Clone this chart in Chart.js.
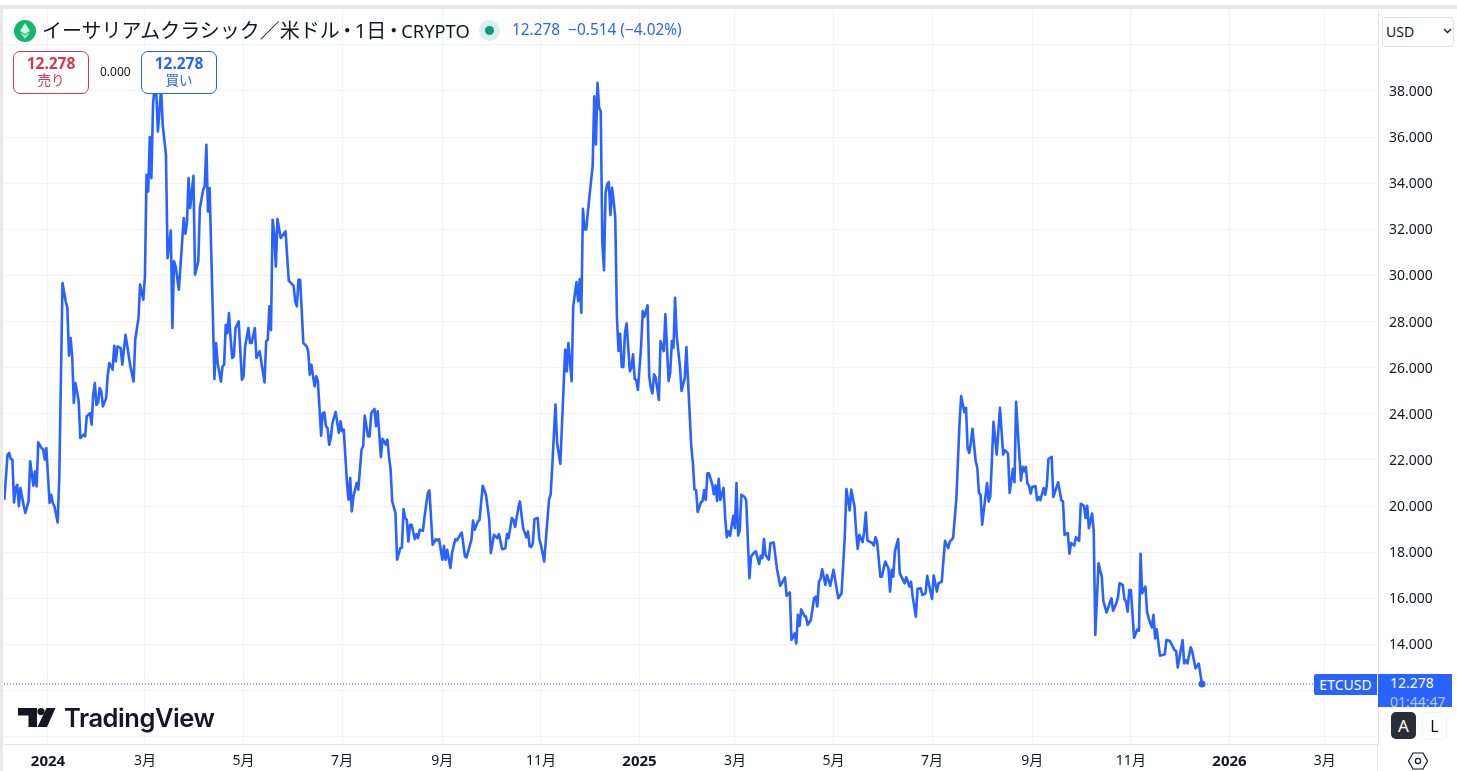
<!DOCTYPE html>
<html lang="ja">
<head>
<meta charset="utf-8">
<title>ETCUSD</title>
<script src="https://cdn.jsdelivr.net/npm/chart.js@4"></script>
<style>
html, body { margin: 0; padding: 0; background: #fff; overflow: hidden; }
body { width: 1457px; height: 771px; position: relative; font-family: "Noto Sans", "Noto Sans CJK JP", sans-serif; color: #131722; }
#wrap { position: absolute; left: 0; top: 0; width: 1457px; height: 771px; }
.abs { position: absolute; white-space: nowrap; }
.frameTop { left: 0; top: 5px; width: 1457px; height: 4px; background: #e9e9e9; }
.frameLeft { left: 0; top: 5px; width: 3px; height: 766px; background: #e9e9e9; }
.axisLine { left: 1377px; top: 744px; width: 1px; height: 27px; background: #e0e3eb; }
.title { left: 42px; top: 18px; font-size: 20px; line-height: 26px; }
.title .sep { margin: 0 -2.5px; }
.title .latin { font-size: 18.3px; }
.quote { left: 512px; top: 20px; font-size: 15.4px; line-height: 20px; color: #2962ff; }
.halo { left: 479px; top: 20px; width: 21px; height: 21px; border-radius: 50%; background: #d9efeb; }
.dot { left: 485px; top: 26px; width: 9px; height: 9px; border-radius: 50%; background: #089981; }
.tradeBox { top: 51px; width: 74px; height: 41px; border-radius: 7px; border: 1px solid; background: #fff; text-align: center; }
.tradeBox b { display: block; font-size: 15.5px; line-height: 18px; margin-top: 2px; }
.tradeBox span { display: block; font-size: 13.5px; line-height: 17px; }
.sell { left: 13px; border-color: #d7374a; color: #d7374a; }
.buy { left: 141px; border-color: #2962cc; color: #2962ff; }
.spread { left: 100px; top: 63px; font-size: 12px; line-height: 17px; }
.usd { left: 1382px; top: 17px; width: 70px; height: 28px; border: 1px solid #e0e3eb; border-radius: 4px; background: #fff; font-size: 14px; line-height: 28px; text-indent: 3px; }
.symLabel { left: 1314px; top: 674px; width: 63px; height: 21px; background: #2962ff; border-radius: 2px 0 0 2px; color: #fff; font-size: 14px; line-height: 21px; text-align: center; }
.priceLabel { left: 1378px; top: 674px; width: 74px; height: 33px; background: #2962ff; color: #fff; overflow: hidden; font-size: 14px; line-height: 18px; text-indent: 12px; }
.priceLabel i { display: block; font-style: normal; line-height: 15px; margin-top: 2px; color: #b4c8ff; }
.btnA { left: 1391px; top: 712px; width: 25px; height: 27px; background: #2a2e39; border-radius: 5px; color: #fff; font-size: 17px; line-height: 27px; text-align: center; }
.btnL { left: 1422px; top: 712px; width: 23px; height: 26px; border: 1px solid #f0f3fa; border-radius: 5px; font-size: 16px; line-height: 26px; text-align: center; }
.tvWord { left: 64px; top: 702px; font-family: Inter, sans-serif; font-weight: 600; font-size: 25.5px; line-height: 32px; letter-spacing: -0.45px; color: #131722; }
svg { overflow: visible; }
</style>
</head>
<body>
<div id="wrap"><canvas id="chart"></canvas></div>

<div class="abs frameTop"></div>
<div class="abs frameLeft"></div>
<div class="abs axisLine"></div>

<svg class="abs" style="left:14px;top:20px" width="22" height="22" viewBox="0 0 22 22">
  <circle cx="11" cy="11" r="11" fill="#12b76a"/>
  <path d="M11 3 L16 11 L11 14 L6 11 Z" fill="#d8f5e6"/>
  <path d="M6 12.2 L11 15.2 L16 12.2 L11 19 Z" fill="#a6e9c6"/>
</svg>
<div class="abs title">イーサリアムクラシック／米ドル<span class="sep">・</span>1日<span class="sep">・</span><span class="latin">CRYPTO</span></div>
<div class="abs halo"></div>
<div class="abs dot"></div>
<div class="abs quote">12.278&nbsp; −0.514 (−4.02%)</div>

<div class="abs tradeBox sell"><b>12.278</b><span>売り</span></div>
<div class="abs spread">0.000</div>
<div class="abs tradeBox buy"><b>12.278</b><span>買い</span></div>

<div class="abs usd">USD</div>
<svg class="abs" style="left:1443px;top:28px" width="9" height="6" viewBox="0 0 9 6">
  <path d="M1 1 L4.5 4.5 L8 1" fill="none" stroke="#131722" stroke-width="1.3"/>
</svg>

<div class="abs symLabel">ETCUSD</div>
<div class="abs priceLabel">12.278<i>01:44:47</i></div>
<div class="abs btnA">A</div>
<div class="abs btnL">L</div>

<svg class="abs" style="left:18px;top:708px" width="38" height="19" viewBox="0 0 38 19">
  <path d="M0 0 H19 V19 H10.5 V7.5 H0 Z" fill="#131722"/>
  <circle cx="23" cy="3.6" r="3.6" fill="#131722"/>
  <path d="M28.5 0 H37.5 L29 19 H19.5 Z" fill="#131722"/>
</svg>
<div class="abs tvWord">TradingView</div>

<svg class="abs" style="left:1408px;top:752px" width="20" height="18" viewBox="0 0 20 18">
  <path d="M5 1 H15 L19.5 9 L15 17 H5 L0.5 9 Z" fill="none" stroke="#131722" stroke-width="1.2"/>
  <circle cx="10" cy="9" r="2.6" fill="none" stroke="#131722" stroke-width="1.2"/>
</svg>

<script>
// ETC/USD daily close. Days counted from 2024-01-01
const days = [
    -27, -25, -24, -23, -22, -21, -20, -19, -18, -17, -15, -14, -12, -11, -9, -8, -7, -6, -4, -3, -2, -1,
    1, 2, 3, 4, 6, 7, 9, 11, 12, 13, 14, 15, 16, 17, 18, 19, 20, 22, 23, 24, 26, 27, 28, 29, 30, 31, 32, 33, 34, 36, 37, 38,
    40, 41, 42, 43, 45, 46, 48, 51, 53, 54, 56, 57, 59, 60, 61, 62, 63, 64, 65, 66, 67, 68, 70, 71, 73, 74, 76, 77, 78, 79, 81,
    84, 85, 86, 87, 88, 90, 91, 93, 94, 96, 97, 98, 99, 100, 102, 103, 104, 105, 107, 108, 109, 110, 111, 112, 113, 114, 115, 116, 118,
    120, 121, 122, 124, 125, 126, 128, 129, 131, 134, 135, 136, 137, 138, 139, 140, 141, 142, 144, 147, 148, 149, 152, 153, 154, 155, 156,
    157, 158, 159, 160, 161, 162, 163, 164, 165, 166, 167, 169, 170, 171, 172, 173, 174, 175, 176, 178, 180, 181,
    182, 183, 185, 186, 187, 188, 189, 191, 192, 194, 195, 196, 198, 199, 200, 202, 203, 204, 206, 207, 208, 209, 210, 211, 212, 213, 215, 216, 218, 219,
    220, 221, 222, 223, 224, 225, 227, 228, 229, 230, 232, 233, 235, 236, 238, 240, 241, 242, 244, 245, 246, 247, 249, 250, 252, 253, 256, 258, 259,
    262, 263, 264, 266, 267, 269, 271, 273, 274, 276, 278, 279, 281, 283, 284, 285, 287, 288, 289, 291, 292, 294, 296, 297, 298, 299, 300, 301, 303, 304,
    305, 307, 310, 311, 312, 314, 315, 317, 320, 321, 322, 324, 325, 327, 328, 329, 330, 331,
    332, 333, 334, 336, 337, 338, 339, 340, 341, 342, 343, 344, 345, 346, 347, 348, 349, 350, 351, 352, 353, 354, 355, 356, 357, 358, 360, 361, 362, 363, 364, 365,
    367, 368, 369, 371, 372, 373, 374, 375, 376, 378, 379, 381, 382, 384, 385, 386, 387, 388, 389, 391, 392, 394, 395, 398, 399, 400, 401, 402, 404, 405, 406, 407, 408, 409, 411, 412, 413, 414, 415, 416, 418, 419,
    420, 421, 422, 424, 425, 426, 427, 428, 429, 431, 432, 434, 435, 437, 438, 440, 441, 442, 443, 444, 446, 447, 449, 451, 453, 454, 456, 457, 459, 460, 462, 463, 464, 465, 466, 468, 469, 470, 472, 474, 475, 476, 477, 478, 479,
    481, 482, 484, 486, 489, 491, 493, 494, 496, 497, 499, 500, 501, 502, 504, 505, 506, 507, 510, 511, 512, 513, 515, 516, 518, 520, 521, 522, 523, 524, 526, 527, 530, 531, 533, 534, 535, 537, 538, 540, 541, 543, 544, 547,
    548, 550, 551, 553, 555, 557, 558, 560, 562, 564, 565, 567, 568, 569, 570, 571, 572, 574, 575, 576,
    577, 578, 581, 582, 583, 584, 585, 587, 589, 591, 592, 594, 595, 597, 598, 599, 600, 602, 603, 604, 605, 606, 607, 608, 609, 611, 612, 613, 614, 616, 617, 618, 619, 621, 622, 625, 627, 628, 629, 631, 632, 633, 635, 636, 638, 639,
    641, 642, 643, 644, 646, 647, 648, 650, 652, 653, 655, 657, 658, 659, 661, 662, 663, 665, 666, 667, 668, 669, 670, 672, 674, 675, 676, 677, 679, 680, 681, 683, 684, 685, 686, 688, 691, 692, 694, 697, 698, 699, 702, 703, 704, 705, 707, 708, 710, 712, 714
];
const closes = [
    20.27, 22.23, 22.30, 22.04, 22.01, 20.16, 20.78, 20.92, 19.99, 20.78, 20.01, 19.70, 20.20, 21.94, 20.88, 21.50, 20.85, 22.76, 22.51, 22.47, 22.01, 22.51,
    20.13, 20.49, 20.13, 19.99, 19.29, 21.21, 29.67, 28.87, 28.58, 26.52, 27.28, 26.49, 24.47, 25.33, 24.97, 24.54, 22.95, 23.09, 23.02, 23.89, 24.03, 23.53, 24.83, 25.33, 24.39, 24.47, 25.12, 24.97, 24.32, 24.68, 25.69, 26.20,
    25.91, 26.95, 26.27, 26.92, 26.85, 26.13, 27.43, 26.05, 25.40, 27.21, 28.15, 29.60, 28.95, 29.96, 34.36, 33.64, 36.00, 34.22, 37.40, 38.20, 38.00, 36.24, 38.10, 36.53, 35.23, 30.75, 31.95, 27.72, 30.61, 30.39, 29.38,
    32.49, 31.81, 32.27, 34.22, 32.92, 34.32, 30.03, 30.61, 32.92, 33.71, 33.86, 35.66, 32.77, 33.79, 28.37, 25.51, 27.07, 26.20, 25.40, 26.05, 26.13, 27.86, 27.50, 28.37, 27.28, 26.42, 26.49, 27.72, 28.01,
    25.48, 25.62, 26.92, 27.72, 27.07, 27.07, 27.72, 26.42, 26.71, 25.36, 27.14, 27.21, 28.66, 27.64, 32.41, 31.84, 30.39, 32.44, 31.62, 31.91, 30.82, 29.77, 29.55, 28.87, 28.66, 29.81, 29.81,
    28.50, 27.07, 27.00, 26.93, 26.71, 25.70, 26.13, 25.63, 25.19, 25.63, 25.41, 23.05, 24.03, 24.06, 23.46, 23.38, 22.66, 22.95, 23.60, 24.08, 23.17, 23.67,
    23.24, 23.31, 21.00, 20.27, 21.21, 19.77, 20.42, 21.00, 20.71, 22.44, 22.59, 23.92, 23.02, 23.02, 24.03, 24.21, 23.46, 24.11, 22.12, 22.91, 22.80, 22.66, 22.88, 22.15, 21.57, 20.20, 19.69, 17.67, 18.17, 18.20,
    19.87, 19.48, 19.40, 18.46, 19.19, 19.19, 18.56, 18.78, 18.61, 18.97, 18.93, 19.55, 20.56, 20.68, 18.32, 18.56, 18.51, 18.56, 17.67, 18.27, 17.67, 18.10, 17.31, 17.96, 18.56, 18.51, 18.85, 17.81, 17.77,
    18.54, 19.37, 18.97, 19.33, 19.40, 20.88, 20.49, 19.40, 17.96, 18.75, 18.61, 18.78, 18.13, 18.17, 18.78, 18.61, 19.48, 19.40, 19.09, 19.91, 20.20, 19.04, 18.64, 18.90, 18.25, 18.22, 18.39, 19.43, 19.48, 18.56,
    18.32, 17.59, 20.27, 20.49, 21.72, 24.40, 22.73, 21.83, 26.78, 25.84, 27.07, 25.41, 28.67, 29.71, 28.88, 29.83, 28.38, 32.89,
    31.99, 31.99, 32.72, 34.09, 34.74, 37.77, 35.68, 38.35, 37.27, 37.12, 31.42, 30.23, 33.58, 33.95, 34.05, 32.62, 33.80, 33.22, 32.50, 28.24, 26.72, 27.47, 26.03, 26.03, 27.51, 27.92, 25.85, 26.00, 26.58, 25.52, 25.46, 25.03,
    26.94, 28.45, 28.21, 28.70, 25.64, 25.13, 24.88, 25.71, 25.56, 24.60, 27.15, 26.72, 28.31, 25.42, 25.78, 27.15, 26.86, 29.03, 27.37, 26.07, 24.99, 25.56, 26.89, 22.60, 21.88, 20.72, 20.69, 19.74, 20.17, 20.22, 20.69, 20.26, 21.42, 21.42, 20.94, 20.51, 20.90, 20.22, 21.18, 20.26, 20.79, 19.49,
    18.65, 18.90, 18.71, 19.58, 19.04, 21.00, 18.72, 18.94, 20.49, 20.39, 20.25, 16.87, 17.81, 17.99, 18.03, 17.49, 17.84, 17.74, 18.57, 17.88, 17.67, 18.39, 18.42, 17.30, 16.54, 16.65, 16.91, 16.10, 16.25, 14.19, 14.48, 14.04, 15.28, 14.80, 15.52, 15.23, 15.20, 14.84, 15.06, 16.00, 16.07, 15.64, 16.72, 16.83, 17.26,
    16.58, 17.01, 16.54, 17.23, 16.00, 16.22, 18.68, 20.74, 19.81, 20.71, 19.99, 18.90, 18.14, 18.75, 18.43, 18.90, 19.72, 18.51, 18.39, 18.29, 18.65, 18.46, 16.94, 16.94, 17.59, 17.30, 16.29, 17.23, 16.94, 18.03, 18.57, 17.09, 16.65, 16.91, 16.51, 16.72, 16.07, 15.20, 16.41, 16.43, 16.14, 16.22, 16.97, 15.97,
    16.99, 16.29, 16.65, 16.72, 18.49, 18.17, 18.46, 18.61, 20.28, 23.61, 24.77, 24.07, 24.26, 22.52, 22.30, 22.74, 23.35, 21.94, 21.65, 20.57,
    20.49, 19.19, 21.00, 20.20, 20.42, 21.94, 23.65, 22.23, 24.26, 22.23, 22.42, 22.28, 20.57, 21.61, 21.03, 24.52, 23.32, 21.10, 21.70, 21.51, 21.70, 20.97, 20.88, 20.54, 20.83, 20.86, 20.25, 20.39, 20.25, 20.78, 20.49, 20.88, 22.04, 22.13, 20.39, 21.03, 20.25, 20.20, 18.75, 18.83, 17.93, 18.39, 18.29, 18.65, 18.49, 20.10,
    20.01, 19.48, 20.01, 19.04, 19.67, 18.97, 14.41, 17.52, 16.94, 15.86, 15.38, 15.81, 16.00, 15.46, 15.78, 16.04, 16.65, 16.58, 15.96, 15.86, 15.42, 16.36, 16.36, 14.29, 14.65, 14.59, 17.93, 16.22, 16.51, 15.42, 15.13, 14.74, 15.28, 14.26, 14.65, 13.51, 13.57, 14.19, 14.16, 13.75, 13.72, 13.00, 14.19, 13.17, 13.32, 13.17, 13.87, 13.68, 12.96, 13.17, 12.278
];

const lastPrice = 12.278;
const priceTicks = [10, 12, 14, 16, 18, 20, 22, 24, 26, 28, 30, 32, 34, 36, 38, 40];
const hiddenPriceTicks = [10, 12, 40];
const timeTickDays = [0, 60, 121, 182, 244, 305, 366, 425, 486, 547, 609, 670, 731, 790];
const timeTickLabels = ['2024', '3月', '5月', '7月', '9月', '11月', '2025', '3月', '5月', '7月', '9月', '11月', '2026', '3月'];
const yearTicks = [0, 366, 731];

const blue = '#2962ff';
const gridColor = '#f0f3fa';
const axisFont = '"Noto Sans", "Noto Sans CJK JP", sans-serif';

new Chart(document.getElementById('chart').getContext('2d'), {
    type: 'line',
    data: {
        datasets: [
            {
                label: 'ETCUSD',
                data: days.map((d, i) => ({ x: d, y: closes[i] })),
                borderColor: blue,
                backgroundColor: blue,
                borderWidth: 2.6,
                tension: 0,
                pointRadius: c => c.dataIndex === days.length - 1 ? 3.5 : 0,
                pointBorderWidth: 0,
                borderJoinStyle: 'round'
            },
            {
                label: 'last',
                data: [{ x: -27.2, y: lastPrice }, { x: 822.9, y: lastPrice }],
                borderColor: blue,
                borderWidth: 1,
                borderDash: [1, 2],
                pointRadius: 0
            }
        ]
    },
    options: {
        responsive: true,
        maintainAspectRatio: false,
        animation: false,
        events: [],
        layout: { padding: { left: 3, top: 10, right: 0, bottom: 0 } },
        plugins: { legend: { display: false }, tooltip: { enabled: false } },
        scales: {
            x: {
                type: 'linear',
                min: -27.2,
                max: 822.9,
                afterFit: s => { s.height = 27; },
                afterBuildTicks: s => { s.ticks = timeTickDays.map(v => ({ value: v })); },
                grid: { color: gridColor, lineWidth: 1, drawTicks: false },
                border: { color: '#e0e3eb' },
                ticks: {
                    autoSkip: false,
                    maxRotation: 0,
                    padding: 9,
                    color: '#131722',
                    font: c => ({
                        family: axisFont,
                        size: c.tick && yearTicks.includes(c.tick.value) ? 15 : 14,
                        weight: c.tick && yearTicks.includes(c.tick.value) ? 'bold' : 'normal'
                    }),
                    callback: v => timeTickLabels[timeTickDays.indexOf(v)]
                }
            },
            y: {
                type: 'linear',
                position: 'right',
                min: 9.68,
                max: 41.51,
                afterFit: s => { s.width = 79; s.paddingTop = 0; s.paddingBottom = 0; },
                afterBuildTicks: s => { s.ticks = priceTicks.map(v => ({ value: v })); },
                grid: { color: gridColor, lineWidth: 1, drawTicks: false },
                border: { color: '#e0e3eb' },
                ticks: {
                    padding: 11,
                    labelOffset: 1,
                    color: '#131722',
                    font: { family: axisFont, size: 14 },
                    callback: v => hiddenPriceTicks.includes(v) ? '' : v.toFixed(3)
                }
            }
        }
    }
});
</script>
</body>
</html>
